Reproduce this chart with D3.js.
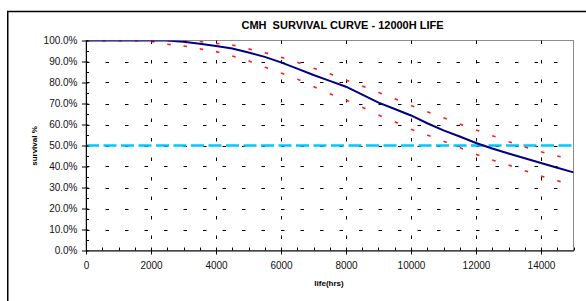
<!DOCTYPE html>
<html>
<head>
<meta charset="utf-8">
<script src="https://cdn.jsdelivr.net/npm/d3@7"></script>
<style>
  body { margin: 0; background: #fff; }
  svg { display: block; font-family: "Liberation Sans", Arial, sans-serif; }
</style>
</head>
<body>
<div id="chart"></div>
<script>
// hours of operation, every 500h
const hours = d3.range(0, 15001, 500);
// survival % (mean curve)
const survival = [100, 100, 100, 100, 100, 100, 99.4, 98.5, 97.4, 96.2, 94.3, 92.2, 89.6, 86.6, 83.6, 80.8,
  78.0, 74.2, 70.4, 67.4, 64.3, 60.6, 57.2, 54.3, 51.2, 48.6, 46.2, 43.9, 41.7, 39.4, 37.2];
// upper / lower bands
const upper = [100, 100, 100, 100, 100, 100, 100, 99.5, 98.6, 97.9, 96.0, 94.2, 92.0, 89.6, 86.8, 84.2,
  81.2, 78.3, 75.3, 72.3, 69.1, 66.1, 63.2, 60.2, 57.4, 54.7, 51.8, 49.3, 47.0, 45.0, 43.1];
const lower = [100, 100, 100, 100, 99.6, 98.2, 97.4, 96.0, 94.7, 92.6, 90.3, 87.3, 84.5, 81.6, 78.1, 74.6,
  71.7, 68.2, 64.5, 61.3, 57.7, 55.0, 52.0, 49.0, 45.8, 43.1, 40.7, 38.0, 35.5, 33.2, 31.3];
const lifeLine = 50;
const xTicks = [0, 2000, 4000, 6000, 8000, 10000, 12000, 14000];
const yTicks = d3.range(0, 101, 10);

const width = 586;
const height = 301;
const svg = d3.select("#chart").append("svg").attr("width", width).attr("height", height);

// outer chart frame (runs off the picture on right / bottom)
svg.append("path")
  .attr("d", "M7.75,301 V11.5 H586")
  .attr("fill", "none").attr("stroke", "#000").attr("stroke-width", 1.5);

const xScale = d3.scaleLinear().domain([0, 15000]).range([86, 573.5]);
const yScale = d3.scaleLinear().domain([0, 100]).range([250.5, 40.5]);

svg.append("defs").append("clipPath").attr("id", "plot")
  .append("rect").attr("x", 86).attr("y", 40.5).attr("width", 487.5).attr("height", 210);

// plot area border
svg.append("rect")
  .attr("x", 86).attr("y", 40.5).attr("width", 487.5).attr("height", 210)
  .attr("fill", "none").attr("stroke", "#8c8c8c").attr("stroke-width", 1);

// gridlines
const grid = svg.append("g").attr("stroke", "#000").attr("stroke-width", 1)
  .attr("stroke-dasharray", "3.5,16");
grid.selectAll(".h").data(yTicks.filter(d => d > 0 && d < 100)).join("line")
  .attr("x1", xScale(0)).attr("x2", xScale(15000))
  .attr("y1", d => Math.round(yScale(d)) + 0.5).attr("y2", d => Math.round(yScale(d)) + 0.5);
grid.selectAll(".v").data(xTicks.filter(d => d > 0)).join("line")
  .attr("y1", yScale(100)).attr("y2", yScale(0))
  .attr("x1", d => Math.round(xScale(d)) + 0.5).attr("x2", d => Math.round(xScale(d)) + 0.5);

// 50% reference line
svg.append("line")
  .attr("x1", xScale(0)).attr("x2", xScale(15000))
  .attr("y1", yScale(lifeLine)).attr("y2", yScale(lifeLine))
  .attr("stroke", "#00c8ff").attr("stroke-width", 2.5).attr("stroke-dasharray", "13,4.5");

const plot = svg.append("g").attr("clip-path", "url(#plot)");

// bands: each segment restarts its dash, so one dash sits at every point
function band(values) {
  const pts = hours.map((h, i) => [xScale(h), yScale(values[i])]);
  plot.append("g").selectAll("line").data(d3.pairs(pts)).join("line")
    .attr("x1", d => d[0][0]).attr("y1", d => d[0][1])
    .attr("x2", d => d[1][0]).attr("y2", d => d[1][1])
    .attr("stroke", "#ff1a1a").attr("stroke-width", 1.6)
    .attr("stroke-dasharray", "3.5,30");
}
band(upper);
band(lower);

const line = d3.line().x((d, i) => xScale(hours[i])).y(d => yScale(d));
plot.append("path").datum(survival)
  .attr("d", line)
  .attr("fill", "none").attr("stroke", "#000080").attr("stroke-width", 2);

// Y axis
const yAxis = d3.axisLeft(yScale).tickValues(yTicks)
  .tickFormat(d => d.toFixed(1) + "%").tickSizeInner(4).tickSizeOuter(0).tickPadding(4.5);
const gy = svg.append("g").attr("transform", "translate(86,0)").call(yAxis);
gy.select(".domain").attr("stroke", "#000");
gy.selectAll(".tick line").attr("x1", 2.5).attr("stroke", "#000");
gy.selectAll("text").attr("font-size", 10).attr("fill", "#111")
  .attr("font-family", "'Liberation Sans', Arial, sans-serif");
gy.selectAll(".minor").data(d3.range(5, 100, 10)).join("line").attr("class", "minor")
  .attr("x1", 0).attr("x2", 3)
  .attr("y1", d => Math.round(yScale(d)) + 0.5).attr("y2", d => Math.round(yScale(d)) + 0.5)
  .attr("stroke", "#000");

// X axis
const xAxis = d3.axisBottom(xScale).tickValues(xTicks)
  .tickFormat(d => String(d)).tickSizeInner(4).tickSizeOuter(0).tickPadding(7.4);
const gx = svg.append("g").attr("transform", "translate(0,250.5)").call(xAxis);
gx.select(".domain").attr("stroke", "#000");
gx.selectAll(".tick line").attr("y1", -3).attr("stroke", "#000");
gx.selectAll("text").attr("font-size", 10).attr("fill", "#111")
  .attr("font-family", "'Liberation Sans', Arial, sans-serif");
gx.selectAll(".minor").data(d3.range(500, 15001, 500).filter(d => d % 2000 !== 0)).join("line")
  .attr("class", "minor")
  .attr("x1", d => Math.round(xScale(d)) + 0.5).attr("x2", d => Math.round(xScale(d)) + 0.5)
  .attr("y1", 0).attr("y2", -3).attr("stroke", "#000");

// titles
svg.append("text")
  .attr("x", 342.5).attr("y", 28.5).attr("text-anchor", "middle")
  .attr("font-size", 11).attr("font-weight", "bold").style("white-space", "pre")
  .text("CMH  SURVIVAL CURVE - 12000H LIFE");

svg.append("text")
  .attr("transform", "translate(36.5,146) rotate(-90)").attr("text-anchor", "middle")
  .attr("font-size", 8).attr("font-weight", "bold")
  .text("survival %");

svg.append("text")
  .attr("x", 329).attr("y", 285.5).attr("text-anchor", "middle")
  .attr("font-size", 8).attr("font-weight", "bold")
  .text("life(hrs)");
</script>
</body>
</html>
